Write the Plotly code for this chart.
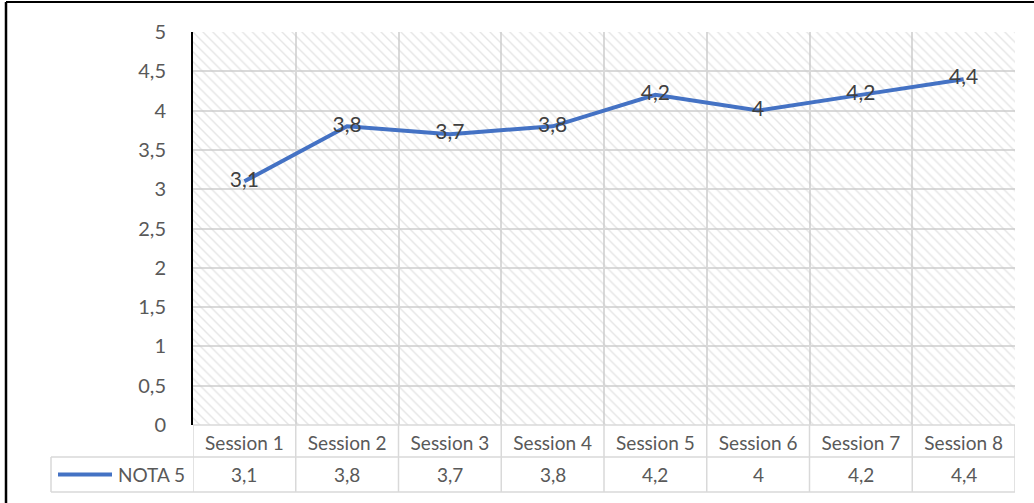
import plotly.graph_objects as go

# ---- data ----
categories = ["Session 1", "Session 2", "Session 3", "Session 4",
              "Session 5", "Session 6", "Session 7", "Session 8"]
series_name = "NOTA 5"
values = [3.1, 3.8, 3.7, 3.8, 4.2, 4.0, 4.2, 4.4]
y_tick_vals = [0, 0.5, 1, 1.5, 2, 2.5, 3, 3.5, 4, 4.5, 5]
y_tick_text = ["0", "0,5", "1", "1,5", "2", "2,5", "3", "3,5", "4", "4,5", "5"]


def fmt(v):
    return f"{v:g}".replace(".", ",")


value_text = [fmt(v) for v in values]

FONT = "Lato"
TXT = "#595959"
GRID = "#d9d9d9"
LINE = "#4472C4"
FS = 19

# geometry of the figure (pixels)
W, H = 1034, 503
L, R, T, B = 193, 19, 32, 78
PW = W - L - R
PH = H - T - B


def px_x(px):
    return (px - L) / PW


def px_y(py):
    return (H - B - py) / PH


fig = go.Figure()

# hatched plot background (one bar per category, spanning the full y range)
fig.add_trace(go.Bar(
    x=categories, y=[y_tick_vals[-1]] * len(categories), width=1,
    marker=dict(color="rgba(0,0,0,0)", line=dict(width=0),
                pattern=dict(shape="\\", fgcolor="#cbcbcb", size=7,
                             solidity=0.2, fillmode="overlay")),
    hoverinfo="skip", showlegend=False,
))

fig.add_trace(go.Scatter(
    x=categories, y=values, name=series_name, mode="lines+text",
    line=dict(color=LINE, width=4),
    text=value_text, textposition="middle center",
    textfont=dict(family=FONT, size=21, color="#404040"),
    showlegend=False, hoverinfo="skip",
))

shapes = []
gl = dict(color=GRID, width=1.5)
n = len(categories)
# table horizontal lines
y_row1 = px_y(457)
y_row2 = px_y(492)
for yy in (0, y_row1, y_row2):
    x0 = px_x(51) if yy != 0 else 0
    shapes.append(dict(type="line", xref="paper", yref="paper",
                       x0=x0, x1=1, y0=yy, y1=yy, line=gl))
# table vertical lines at category boundaries
for k in range(n + 1):
    shapes.append(dict(type="line", xref="x", yref="paper",
                       x0=k - 0.5, x1=k - 0.5, y0=0, y1=y_row2, line=gl))
# legend cell left border
shapes.append(dict(type="line", xref="paper", yref="paper",
                   x0=px_x(51), x1=px_x(51), y0=y_row1, y1=y_row2, line=gl))
# legend line sample
y_mid2 = (y_row1 + y_row2) / 2
shapes.append(dict(type="line", xref="paper", yref="paper",
                   x0=px_x(58), x1=px_x(112), y0=y_mid2, y1=y_mid2,
                   line=dict(color=LINE, width=4)))
# outer frame (top and left edges)
shapes.append(dict(type="line", xref="paper", yref="paper",
                   x0=px_x(6), x1=px_x(W + 5), y0=px_y(2), y1=px_y(2),
                   line=dict(color="black", width=2)))
shapes.append(dict(type="line", xref="paper", yref="paper",
                   x0=px_x(6), x1=px_x(6), y0=px_y(2), y1=px_y(H + 5),
                   line=dict(color="black", width=2.5)))

annotations = []
for c, t in zip(categories, value_text):
    annotations.append(dict(x=c, y=y_mid2, xref="x", yref="paper",
                            text=t, showarrow=False,
                            font=dict(family=FONT, size=FS, color=TXT),
                            xanchor="center", yanchor="middle"))
annotations.append(dict(x=px_x(187), y=y_mid2, xref="paper", yref="paper",
                        text=series_name, showarrow=False,
                        font=dict(family=FONT, size=FS, color=TXT),
                        xanchor="right", yanchor="middle"))

fig.update_layout(
    width=W, height=H,
    margin=dict(l=L, r=R, t=T, b=B, pad=0),
    paper_bgcolor="white", plot_bgcolor="white",
    separators=", ",
    bargap=0,
    shapes=shapes, annotations=annotations,
    font=dict(family=FONT, size=FS, color=TXT),
    hovermode=False,
)
fig.update_xaxes(
    type="category", tickson="boundaries", showgrid=True, gridcolor=GRID,
    gridwidth=1.5, showline=False, ticks="", zeroline=False,
    range=[-0.5, n - 0.5], ticklabelstandoff=5,
    tickfont=dict(family=FONT, size=FS, color=TXT),
)
fig.update_yaxes(
    range=[0, 5], tickvals=y_tick_vals, ticktext=y_tick_text,
    showgrid=True, gridcolor=GRID, gridwidth=1.5, zeroline=False,
    showline=True, linecolor="black", linewidth=2, ticks="",
    ticklabelstandoff=21,
    tickfont=dict(family=FONT, size=20, color=TXT),
)

fig.write_html("out.html", config={"displayModeBar": False},
               post_script="document.body.style.margin='0px';")
